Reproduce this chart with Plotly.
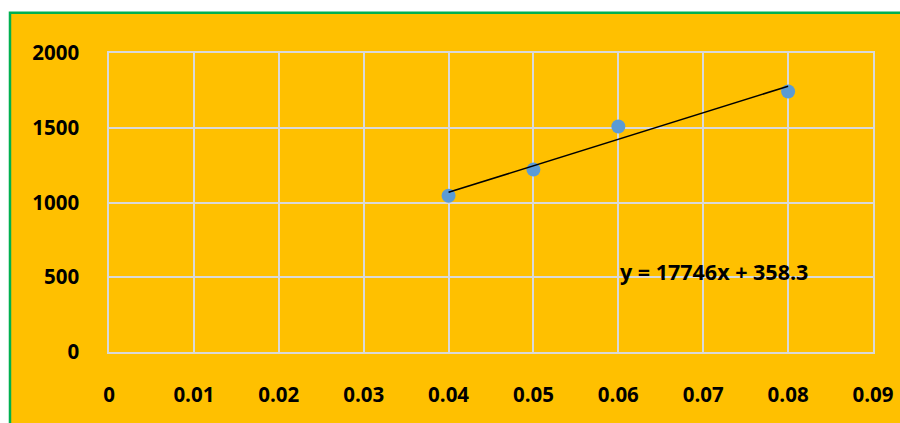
import numpy as np
import plotly.graph_objects as go

# Data
x_vals = [0.04, 0.05, 0.06, 0.08]
y_vals = [1045, 1220, 1508, 1742]

x_ticks = [0, 0.01, 0.02, 0.03, 0.04, 0.05, 0.06, 0.07, 0.08, 0.09]
x_ticktext = ["0", "0.01", "0.02", "0.03", "0.04", "0.05", "0.06", "0.07", "0.08", "0.09"]
y_ticks = [0, 500, 1000, 1500, 2000]
y_ticktext = ["0", "500", "1000", "1500", "2000"]

equation_label = "y = 17746x + 358.3"

# Linear trendline (least squares) over the data range
slope, intercept = np.polyfit(x_vals, y_vals, 1)
trend_x = [min(x_vals), max(x_vals)]
trend_y = [slope * v + intercept for v in trend_x]

ORANGE = "#FFC000"
GRID = "#D9D9D9"
FONT = dict(family="Open Sans", size=20.5, color="#000000", weight="bold")

fig = go.Figure()
fig.add_trace(go.Scatter(x=x_vals, y=y_vals, mode="markers",
                         marker=dict(color="#5B9BD5", size=14),
                         showlegend=False))
fig.add_trace(go.Scatter(x=trend_x, y=trend_y, mode="lines",
                         line=dict(color="#000000", width=1.5),
                         showlegend=False))

fig.add_annotation(x=0.0713, y=540, text=equation_label, showarrow=False,
                   font=dict(FONT, size=21.5), xanchor="center", yanchor="middle")

# Orange chart area with green border
fig.add_shape(type="rect", xref="paper", yref="paper",
              x0=-0.1296, x1=1.06, y0=-0.30, y1=1.1345,
              fillcolor=ORANGE, line=dict(color="#00B050", width=2.5),
              layer="below")

fig.update_layout(
    width=900, height=423,
    margin=dict(l=109, r=27, t=53, b=71, autoexpand=False),
    paper_bgcolor="#FFFFFF",
    plot_bgcolor=ORANGE,
    font=FONT,
)
fig.update_xaxes(range=[0, 0.09], tickvals=x_ticks, ticktext=x_ticktext,
                 showgrid=True, gridcolor=GRID, gridwidth=1.5,
                 showline=True, linecolor=GRID, linewidth=1.5, mirror=True,
                 zeroline=False, ticks="", ticklabelstandoff=24,
                 tickfont=FONT, automargin=False)
fig.update_yaxes(range=[0, 2000], tickvals=y_ticks, ticktext=y_ticktext,
                 showgrid=True, gridcolor=GRID, gridwidth=1.5,
                 showline=True, linecolor=GRID, linewidth=1.5, mirror=True,
                 zeroline=False, ticks="", ticklabelstandoff=24,
                 tickfont=FONT, automargin=False)

fig.write_html("out.html",
               config={"displayModeBar": False},
               post_script="document.body.style.margin='0';"
                           "document.body.style.overflow='hidden';")
